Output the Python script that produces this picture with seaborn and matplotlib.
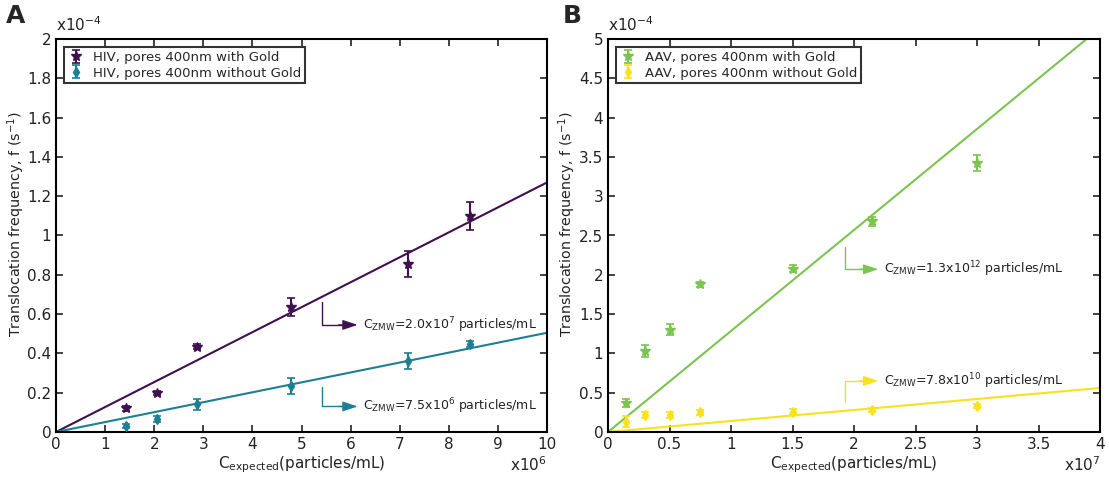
import numpy as np
import matplotlib
matplotlib.use("Agg")
import matplotlib.pyplot as plt
import seaborn as sns
from matplotlib.ticker import FuncFormatter, MultipleLocator

# Panel A: HIV (x in 1e6 particles/mL, y in 1e-4 s^-1)
hiv_x = [1.42, 2.05, 2.87, 4.78, 7.17, 8.43]
hiv_gold_y = [0.12, 0.20, 0.435, 0.635, 0.855, 1.10]
hiv_gold_err = [0.012, 0.010, 0.015, 0.045, 0.065, 0.07]
hiv_nogold_y = [0.03, 0.065, 0.14, 0.235, 0.36, 0.45]
hiv_nogold_err = [0.010, 0.015, 0.03, 0.04, 0.04, 0.015]
hiv_fit_slope = [0.127, 0.0505]

# Panel B: AAV (x in 1e7 particles/mL, y in 1e-4 s^-1)
aav_x = [0.15, 0.30, 0.50, 0.75, 1.50, 2.15, 3.00]
aav_gold_y = [0.37, 1.03, 1.30, 1.88, 2.08, 2.68, 3.42]
aav_gold_err = [0.05, 0.08, 0.07, 0.03, 0.05, 0.06, 0.10]
aav_nogold_y = [0.13, 0.22, 0.22, 0.25, 0.26, 0.28, 0.33]
aav_nogold_err = [0.07, 0.04, 0.04, 0.03, 0.03, 0.03, 0.03]
aav_fit_slope = [1.285, 0.14]

purple = "#3f0f4f"
teal = "#1d8092"
green = "#7cc450"
yellow = "#f7e21c"

sns.set_style("ticks")
plt.rcParams["font.family"] = ["DejaVu Sans"]
plt.rcParams["xtick.direction"] = "in"
plt.rcParams["ytick.direction"] = "in"

fig = plt.figure(figsize=(11.09, 4.87), dpi=100)
axA = fig.add_axes([56 / 1109, 1 - 432 / 487, 491 / 1109, 393 / 487])
axB = fig.add_axes([608 / 1109, 1 - 432 / 487, 492 / 1109, 393 / 487])

fmt = FuncFormatter(lambda v, p: f"{v:g}")


def panel(ax, xs, ys1, e1, ys2, e2, slopes, c1, c2, lab1, lab2, xmax, ymax):
    ax.errorbar(xs, ys1, yerr=e1, fmt="*", color=c1, ms=7, capsize=3,
                elinewidth=1.5, capthick=1.2, label=lab1, zorder=3)
    ax.errorbar(xs, ys2, yerr=e2, fmt="d", color=c2, ms=5, capsize=3,
                elinewidth=1.5, capthick=1.2, label=lab2, zorder=3)
    xl = np.array([0, xmax])
    sns.lineplot(x=xl, y=slopes[0] * xl, color=c1, lw=1.5, ax=ax, legend=False)
    sns.lineplot(x=xl, y=slopes[1] * xl, color=c2, lw=1.5, ax=ax, legend=False)
    ax.set_xlim(0, xmax)
    ax.set_ylim(0, ymax)
    ax.xaxis.set_major_formatter(fmt)
    ax.yaxis.set_major_formatter(fmt)
    ax.tick_params(top=True, right=True, labelsize=11, length=5, width=1.2,
                   colors="#222222")
    for s in ax.spines.values():
        s.set_linewidth(1.5)
        s.set_color("black")
    ax.set_ylabel("Translocation frequency, f (s$^{-1}$)", fontsize=10.3,
                  color="#222222")
    ax.yaxis.set_label_coords(-0.06, 0.53)
    ax.set_xlabel("C$_{\\mathrm{expected}}$(particles/mL)", fontsize=11,
                  color="#222222", labelpad=2)
    leg = ax.legend(loc="upper left", fontsize=9.5, frameon=True, fancybox=False,
                    handletextpad=0.6, borderaxespad=0.6, handlelength=1.3,
                    borderpad=0.3, labelspacing=0.2)
    leg.get_frame().set_edgecolor("black")
    leg.get_frame().set_linewidth(1.5)


panel(axA, hiv_x, hiv_gold_y, hiv_gold_err, hiv_nogold_y, hiv_nogold_err,
      hiv_fit_slope, purple, teal, "HIV, pores 400nm with Gold",
      "HIV, pores 400nm without Gold", 10, 2)
axA.xaxis.set_major_locator(MultipleLocator(1))
axA.yaxis.set_major_locator(MultipleLocator(0.2))

panel(axB, aav_x, aav_gold_y, aav_gold_err, aav_nogold_y, aav_nogold_err,
      aav_fit_slope, green, yellow, "AAV, pores 400nm with Gold",
      "AAV, pores 400nm without Gold", 4, 5)
axB.xaxis.set_major_locator(MultipleLocator(0.5))
axB.yaxis.set_major_locator(MultipleLocator(0.5))

# scale factors
for ax, ymul, xmul in [(axA, "x10$^{-4}$", "x10$^{6}$"), (axB, "x10$^{-4}$", "x10$^{7}$")]:
    ax.text(0.0, 1.012, ymul, transform=ax.transAxes, fontsize=11, ha="left",
            va="bottom", color="#222222")
    ax.text(1.0, -0.06, xmul, transform=ax.transAxes, fontsize=11, ha="right",
            va="top", color="#222222")

fig.text(6 / 1109, 1 - 16 / 487, "A", fontsize=18, fontweight="bold", va="center")
fig.text(563 / 1109, 1 - 16 / 487, "B", fontsize=18, fontweight="bold", va="center")


def bent_arrow(ax, x0, ytop, ybend, x1, color, label):
    ax.plot([x0, x0, x1 - 0.02 * (ax.get_xlim()[1])], [ytop, ybend, ybend],
            color=color, lw=1.0)
    ax.annotate("", xy=(x1, ybend), xytext=(x1 - 0.05 * ax.get_xlim()[1], ybend),
                arrowprops=dict(arrowstyle="-|>,head_length=0.9,head_width=0.3",
                                color=color, lw=1.0))
    ax.text(x1 + 0.005 * ax.get_xlim()[1], ybend, label, fontsize=9,
            va="center", ha="left", color="#222222")


bent_arrow(axA, 5.42, 0.66, 0.545, 6.2, purple,
           "C$_{\\mathrm{ZMW}}$=2.0x10$^{7}$ particles/mL")
bent_arrow(axA, 5.42, 0.23, 0.13, 6.2, teal,
           "C$_{\\mathrm{ZMW}}$=7.5x10$^{6}$ particles/mL")
bent_arrow(axB, 1.93, 2.35, 2.07, 2.22, green,
           "C$_{\\mathrm{ZMW}}$=1.3x10$^{12}$ particles/mL")
bent_arrow(axB, 1.93, 0.38, 0.65, 2.22, yellow,
           "C$_{\\mathrm{ZMW}}$=7.8x10$^{10}$ particles/mL")

fig.savefig("out.png", dpi=100)
